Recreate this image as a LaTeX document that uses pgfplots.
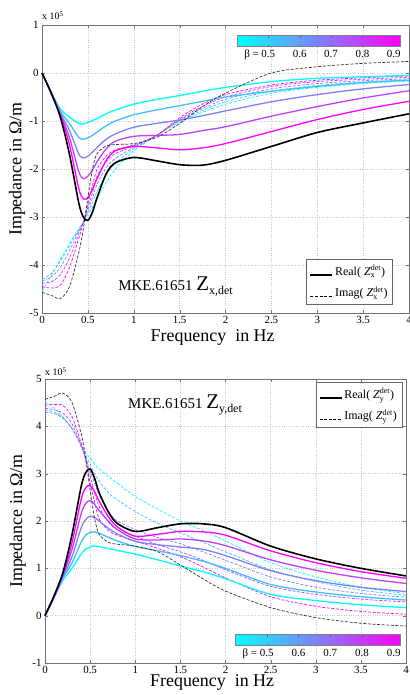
\documentclass[border=0pt]{standalone}
\usepackage{fontspec}
\setmainfont{Liberation Serif}
\usepackage{amsmath}
\usepackage{pgfplots}
\pgfplotsset{compat=1.18}
\usepackage{pgfplotstable}

\definecolor{b5}{rgb}{0,1,1}
\definecolor{b6}{rgb}{0.25,0.75,1}
\definecolor{b7}{rgb}{0.5,0.5,1}
\definecolor{b8}{rgb}{0.75,0.25,1}
\definecolor{b9}{rgb}{1,0,1}

% Z_x,det : real (r) and imaginary (i) parts, in 1e5 Ohm/m, beta = 0.5 ... 0.9 and 1 (black)
\pgfplotstableread{
x     r5    r6    r7    r8    r9    r10   i5    i6    i7    i8    i9    i10
0     0     0     0     0     0     0     -4.55 -4.30 -4.33 -4.38 -4.45 -4.57
0.1   -0.40 -0.40 -0.40 -0.41 -0.41 -0.42 -4.22 -4.18 -4.25 -4.35 -4.48 -4.63
0.2   -0.75 -0.80 -0.83 -0.86 -0.88 -0.92 -3.88 -3.92 -4.05 -4.20 -4.42 -4.70
0.3   -0.92 -1.05 -1.20 -1.35 -1.50 -1.70 -3.55 -3.60 -3.70 -3.85 -4.05 -4.45
0.4   -1.05 -1.34 -1.68 -2.05 -2.40 -2.70 -3.25 -3.27 -3.30 -3.35 -3.45 -3.75
0.45  -1.06 -1.38 -1.77 -2.20 -2.62 -3.00 -3.11 -3.11 -3.11 -3.11 -3.13 -3.25
0.5   -1.03 -1.35 -1.73 -2.15 -2.60 -3.07 -2.95 -2.90 -2.85 -2.80 -2.72 -2.60
0.55  -0.99 -1.30 -1.65 -2.02 -2.42 -2.90 -2.80 -2.70 -2.60 -2.50 -2.35 -2.00
0.6   -0.95 -1.23 -1.55 -1.85 -2.20 -2.60 -2.62 -2.47 -2.32 -2.15 -2.00 -1.68
0.7   -0.85 -1.10 -1.38 -1.58 -1.82 -2.10 -2.28 -2.12 -1.97 -1.85 -1.73 -1.52
0.8   -0.77 -1.00 -1.27 -1.42 -1.62 -1.87 -2.00 -1.88 -1.78 -1.68 -1.60 -1.49
1.0   -0.65 -0.87 -1.13 -1.32 -1.53 -1.76 -1.62 -1.58 -1.55 -1.52 -1.50 -1.47
1.25  -0.55 -0.77 -1.05 -1.30 -1.56 -1.83 -1.30 -1.30 -1.30 -1.30 -1.30 -1.34
1.5   -0.47 -0.68 -0.98 -1.28 -1.60 -1.91 -1.02 -1.00 -0.98 -0.96 -0.93 -1.05
1.75  -0.38 -0.59 -0.89 -1.20 -1.56 -1.92 -0.82 -0.78 -0.74 -0.70 -0.65 -0.70
2.0   -0.30 -0.50 -0.79 -1.12 -1.47 -1.82 -0.65 -0.60 -0.55 -0.50 -0.45 -0.42
2.5   -0.18 -0.38 -0.60 -0.90 -1.22 -1.53 -0.42 -0.38 -0.33 -0.28 -0.25 0.00
3.0   -0.11 -0.28 -0.45 -0.70 -0.97 -1.24 -0.30 -0.26 -0.22 -0.18 -0.15 0.13
3.5   -0.08 -0.20 -0.33 -0.52 -0.76 -1.04 -0.22 -0.19 -0.16 -0.13 -0.10 0.20
4.0   -0.05 -0.15 -0.24 -0.37 -0.59 -0.85 -0.17 -0.14 -0.12 -0.09 -0.06 0.24
}\zx

% Z_y,det
\pgfplotstableread{
x     r5   r6   r7   r8   r9   r10  i5   i6   i7   i8   i9   i10
0     0    0    0    0    0    0    4.53 4.35 4.30 4.38 4.45 4.57
0.1   0.38 0.38 0.39 0.40 0.40 0.42 4.38 4.30 4.27 4.35 4.46 4.63
0.2   0.75 0.80 0.83 0.86 0.88 0.92 4.20 4.18 4.17 4.28 4.44 4.70
0.3   1.00 1.12 1.25 1.40 1.55 1.72 3.95 3.95 3.95 4.05 4.20 4.50
0.4   1.30 1.55 1.85 2.15 2.45 2.72 3.62 3.60 3.58 3.60 3.65 3.85
0.45  1.40 1.70 2.03 2.37 2.70 3.02 3.45 3.40 3.35 3.30 3.30 3.35
0.5   1.45 1.76 2.10 2.43 2.75 3.10 3.33 3.20 3.05 2.95 2.80 2.65
0.55  1.47 1.77 2.07 2.35 2.62 2.90 3.20 3.00 2.80 2.60 2.40 2.05
0.6   1.46 1.74 2.00 2.22 2.42 2.60 3.10 2.85 2.55 2.30 2.05 1.72
0.7   1.42 1.66 1.85 2.00 2.10 2.20 2.95 2.60 2.20 1.98 1.80 1.55
0.8   1.38 1.58 1.73 1.82 1.88 1.95 2.80 2.45 2.00 1.82 1.70 1.51
1.0   1.30 1.46 1.57 1.62 1.68 1.78 2.52 2.20 1.82 1.68 1.58 1.47
1.25  1.18 1.37 1.50 1.60 1.72 1.86 2.25 1.95 1.65 1.50 1.42 1.35
1.5   1.05 1.27 1.45 1.62 1.78 1.94 2.00 1.75 1.52 1.35 1.25 1.07
1.75  0.93 1.15 1.40 1.58 1.77 1.94 1.80 1.55 1.35 1.17 1.03 0.78
2.0   0.78 1.00 1.27 1.48 1.70 1.86 1.58 1.35 1.17 0.97 0.80 0.52
2.5   0.45 0.66 0.95 1.18 1.37 1.47 1.12 0.97 0.82 0.62 0.40 0.17
3.0   0.32 0.50 0.74 0.96 1.12 1.20 0.82 0.72 0.60 0.45 0.20 -0.04
3.5   0.23 0.40 0.60 0.80 0.93 1.00 0.60 0.54 0.47 0.35 0.09 -0.16
4.0   0.17 0.33 0.51 0.68 0.79 0.84 0.47 0.43 0.39 0.29 0.03 -0.22
}\zy

\pgfplotsset{
  zplot/.style={
    scale only axis, clip=false,
    xmin=0, xmax=4, xtick={0,0.5,...,4},
    grid=major, grid style={dotted, black!22},
    axis line style={black!55},
    tick align=inside, major tick length=3bp, tick style={black!55},
    ticklabel style={font=\fontsize{11}{11}\selectfont},
    /pgf/number format/assume math mode=true,
    xlabel={Frequency\ \ in Hz}, ylabel={Impedance in Ω/m},
    label style={font=\fontsize{18}{18}\selectfont},
    colormap={coolmap}{rgb=(0,1,1) rgb=(1,0,1)},
    point meta min=0.4, point meta max=0.92,
    colorbar horizontal,
    legend cell align=left,
    legend image code/.code={\draw[##1] (0bp,-4bp) -- (22bp,-4bp);},
    legend style={draw=black!60, fill=white,
      font=\fontsize{12}{14}\selectfont, inner xsep=3bp, inner ysep=4bp, row sep=6bp},
  },
  cbar/.style={
    width=163bp, height=11bp, scale only axis,
    xtick={0.5,0.6,0.7,0.8,0.9},
    xticklabels={\llap{β = }0.5,0.6,0.7,0.8,0.9},
    xticklabel style={font=\fontsize{11}{11}\selectfont},
    tick align=inside, major tick length=2bp, tick style={black!60},
    axis line style={black!50},
  },
  re/.style={smooth, line width=1.3bp, forget plot},
  im/.style={smooth, dash pattern=on 3bp off 1.6bp, line width=0.7bp, forget plot},
}

\begin{document}
\begin{tikzpicture}
\path[use as bounding box] (-42bp,-382bp) rectangle (368bp,313bp);

\begin{axis}[zplot,
  at={(0,0)}, anchor=south west,
  width=367bp, height=288bp,
  ymin=-5, ymax=1, ytick={-5,-4,...,1},
  ylabel style={at={(axis description cs:-0.068,0.5)}, anchor=center},
  xlabel style={at={(axis description cs:0.465,0)}, anchor=center, yshift=-24bp},
  colorbar style={cbar, at={(parent axis.north east)}, anchor=north east,
    xshift=-9bp, yshift=-2bp},
  legend style={at={(0.956,0.031)}, anchor=south east},
]
\addplot[im, b5] table[x=x, y=i5] {\zx};
\addplot[im, b6] table[x=x, y=i6] {\zx};
\addplot[im, b7] table[x=x, y=i7] {\zx};
\addplot[im, b8] table[x=x, y=i8] {\zx};
\addplot[im, b9] table[x=x, y=i9] {\zx};
\addplot[re, b5] table[x=x, y=r5] {\zx};
\addplot[re, b6] table[x=x, y=r6] {\zx};
\addplot[re, b7] table[x=x, y=r7] {\zx};
\addplot[re, b8] table[x=x, y=r8] {\zx};
\addplot[re, b9] table[x=x, y=r9] {\zx};
\addplot[im, black!80] table[x=x, y=i10] {\zx};
\addplot[re, black, line width=1.6bp] table[x=x, y=r10] {\zx};
\addlegendimage{black, line width=1.6bp}
\addlegendentry{Real( \textit{Z}$_{\text{x}}^{\text{det}}$)}
\addlegendimage{black, dash pattern=on 3bp off 1.6bp, line width=0.7bp}
\addlegendentry{Imag( \textit{Z}$_{\text{x}}^{\text{det}}$)}
\node[anchor=south west, inner sep=0pt, font=\fontsize{10}{10}\selectfont]
  at (rel axis cs:0,1) [yshift=5bp] {x 10\textsuperscript{5}};
\node[anchor=west, inner sep=0pt] at (axis cs:0.83,-4.45)
  {\fontsize{15}{15}\selectfont MKE.61651 \fontsize{21}{21}\selectfont Z\raisebox{-4bp}{\fontsize{12}{12}\selectfont x,det}};
\end{axis}

\begin{axis}[zplot,
  at={(3bp,-350bp)}, anchor=south west,
  width=361bp, height=284bp,
  ymin=-1, ymax=5, ytick={-1,0,...,5},
  ylabel style={at={(axis description cs:-0.075,0.5)}, anchor=center},
  xlabel style={at={(axis description cs:0.463,0)}, anchor=center, yshift=-19bp},
  colorbar style={cbar, width=165bp, at={(parent axis.south east)}, anchor=south east,
    xshift=-6bp, yshift=26bp},
  legend style={at={(0.989,0.989)}, anchor=north east},
]
\addplot[im, b5] table[x=x, y=i5] {\zy};
\addplot[im, b6] table[x=x, y=i6] {\zy};
\addplot[im, b7] table[x=x, y=i7] {\zy};
\addplot[im, b8] table[x=x, y=i8] {\zy};
\addplot[im, b9] table[x=x, y=i9] {\zy};
\addplot[re, b5] table[x=x, y=r5] {\zy};
\addplot[re, b6] table[x=x, y=r6] {\zy};
\addplot[re, b7] table[x=x, y=r7] {\zy};
\addplot[re, b8] table[x=x, y=r8] {\zy};
\addplot[re, b9] table[x=x, y=r9] {\zy};
\addplot[im, black!80] table[x=x, y=i10] {\zy};
\addplot[re, black, line width=1.6bp] table[x=x, y=r10] {\zy};
\addlegendimage{black, line width=1.6bp}
\addlegendentry{Real( \textit{Z}$_{\text{y}}^{\text{det}}$)}
\addlegendimage{black, dash pattern=on 3bp off 1.6bp, line width=0.7bp}
\addlegendentry{Imag( \textit{Z}$_{\text{y}}^{\text{det}}$)}
\node[anchor=south west, inner sep=0pt, font=\fontsize{10}{10}\selectfont]
  at (rel axis cs:0,1) [yshift=3bp] {x 10\textsuperscript{5}};
\node[anchor=west, inner sep=0pt] at (axis cs:0.92,4.45)
  {\fontsize{15}{15}\selectfont MKE.61651 \fontsize{21}{21}\selectfont Z\raisebox{-4bp}{\fontsize{12}{12}\selectfont y,det}};
\end{axis}
\end{tikzpicture}
\end{document}
